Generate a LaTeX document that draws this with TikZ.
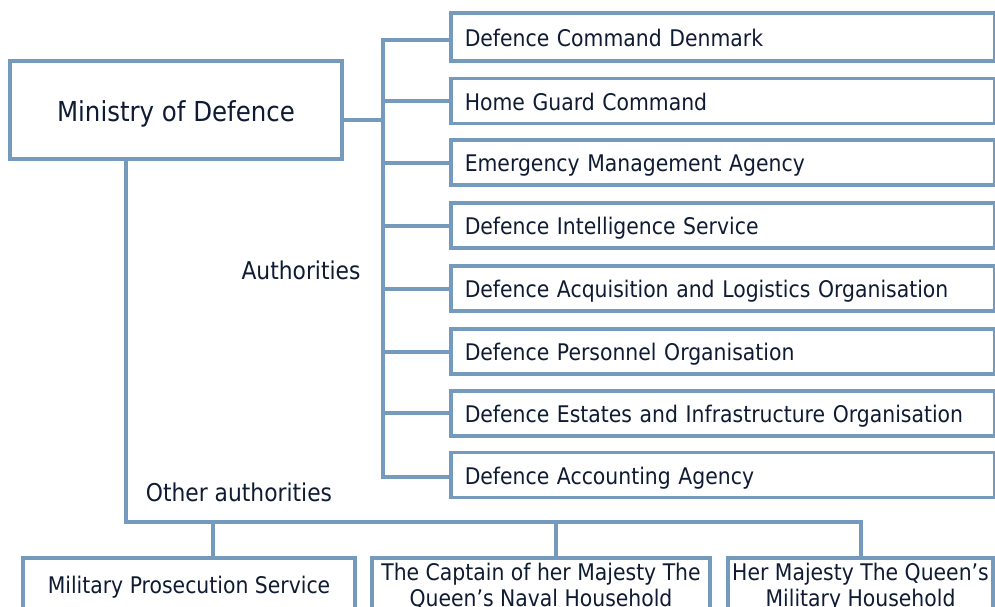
\documentclass[tikz,border=0pt]{standalone}
\usepackage{fontspec}
\setmainfont{DejaVu Sans}[FakeStretch=0.89]
\definecolor{lc}{RGB}{116,154,189}
\definecolor{tc}{RGB}{14,27,50}
\begin{document}
\begin{tikzpicture}[x=1pt,y=-1pt,
  box/.style={draw=lc,line width=3.5pt,fill=white,text=tc},
  authbox/.style={box,anchor=west,minimum height=45pt,text width=516pt,inner xsep=14pt,inner ysep=0pt,align=left,text height=22pt,text depth=4pt,font=\fontsize{22.9}{27}\selectfont},
  otherbox/.style={box,anchor=north,minimum height=58pt,inner xsep=2pt,align=center,font=\fontsize{22.9}{26}\selectfont},
  lbl/.style={text=tc,font=\fontsize{24.5}{28}\selectfont,inner sep=0pt},
  conn/.style={draw=lc,line width=3.5pt,line join=miter}
]
\useasboundingbox (0,0) rectangle (995,606);
\clip (0,0) rectangle (995,606);

% connector points
\coordinate (j0) at (383,120);
\coordinate (c1) at (383,40);
\coordinate (c2) at (383,101);
\coordinate (c3) at (383,163);
\coordinate (c4) at (383,226);
\coordinate (c5) at (383,289);
\coordinate (c6) at (383,352);
\coordinate (c7) at (383,413);
\coordinate (c8) at (383,477);
\coordinate (m0) at (126,522);
\coordinate (m3) at (861,522);
\coordinate (d1) at (213,522);
\coordinate (d2) at (556,522);

% Ministry
\node[box,minimum width=332pt,minimum height=98pt,inner sep=0pt,text height=28pt,text depth=6pt,font=\fontsize{27.5}{32}\selectfont] (mod) at (176,110) {Ministry of Defence};

% authorities
\node[authbox,minimum height=48pt] (b1) at (449,37) {Defence Command Denmark};
\node[authbox] (b2) at (449,101) {Home Guard Command};
\node[authbox] (b3) at (449,162.5) {Emergency Management Agency};
\node[authbox] (b4) at (449,225.5) {Defence Intelligence Service};
\node[authbox] (b5) at (449,288.5) {Defence Acquisition and Logistics Organisation};
\node[authbox] (b6) at (449,351.5) {Defence Personnel Organisation};
\node[authbox] (b7) at (449,413.5) {Defence Estates and Infrastructure Organisation};
\node[authbox] (b8) at (449,475) {Defence Accounting Agency};

% other authorities
\node[otherbox,minimum width=332pt] (p1) at (189,556) {Military Prosecution Service};
\node[otherbox,minimum width=338pt] (p2) at (541,556) {The Captain of her Majesty The\\Queen’s Naval Household};
\node[otherbox,minimum width=265pt] (p3) at (860.5,556) {Her Majesty The Queen’s\\Military Household};

% labels
\node[lbl] (la) at (301,270) {Authorities};
\node[lbl] (lo) at (239,492) {Other authorities};

% lines
\draw[conn] (mod.east |- j0) -- (j0);
\draw[conn] (c1 -| b1.west) -- (c1) -- (c8) -- (c8 -| b8.west);
\foreach \i in {2,...,7} {\draw[conn] (c\i) -- (c\i -| b\i.west);}
\draw[conn] (mod.south -| m0) -- (m0) -- (m3) -- (m3 |- p3.north);
\draw[conn] (d1) -- (d1 |- p1.north);
\draw[conn] (d2) -- (d2 |- p2.north);
\end{tikzpicture}
\end{document}
